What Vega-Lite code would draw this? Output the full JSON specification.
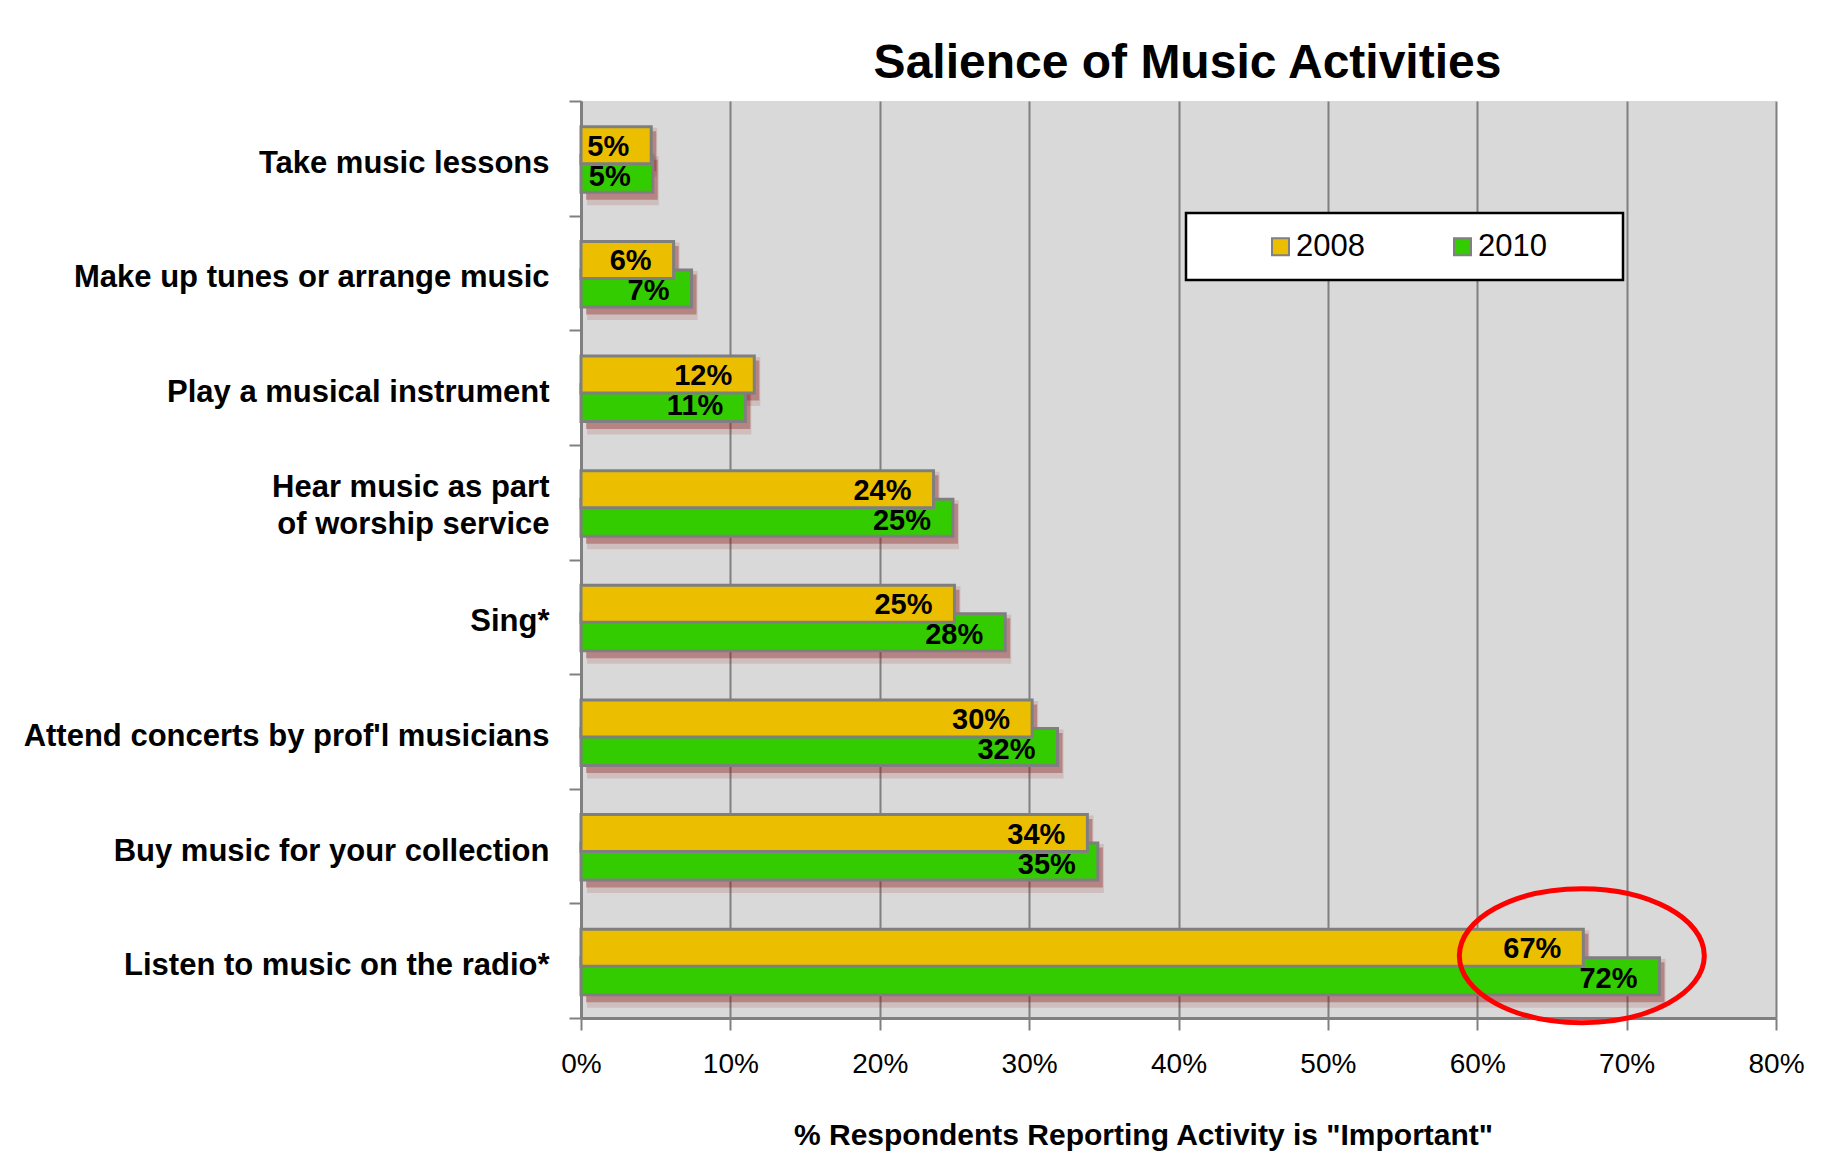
{
  "$schema": "https://vega.github.io/schema/vega-lite/v6.json",
  "width": 1195,
  "height": 917,
  "autosize": {"type": "none"},
  "padding": {"left": 581, "top": 101, "right": 57, "bottom": 135},
  "background": "white",
  "view": {"fill": "#D9D9D9", "stroke": null},
  "title": {"text": "Salience of Music Activities", "font": "Liberation Sans, sans-serif", "fontSize": 48, "fontWeight": "bold", "color": "black", "anchor": "middle", "dx": 9, "dy": 62, "offset": 21, "baseline": "alphabetic"},
  "data": {"values": [
    {"activity": "Take music lessons", "year": "2008", "value": 0.047},
    {"activity": "Take music lessons", "year": "2010", "value": 0.048},
    {"activity": "Make up tunes or arrange music", "year": "2008", "value": 0.062},
    {"activity": "Make up tunes or arrange music", "year": "2010", "value": 0.074},
    {"activity": "Play a musical instrument", "year": "2008", "value": 0.116},
    {"activity": "Play a musical instrument", "year": "2010", "value": 0.110},
    {"activity": "Hear music as part of worship service", "year": "2008", "value": 0.236},
    {"activity": "Hear music as part of worship service", "year": "2010", "value": 0.249},
    {"activity": "Sing*", "year": "2008", "value": 0.250},
    {"activity": "Sing*", "year": "2010", "value": 0.284},
    {"activity": "Attend concerts by prof'l musicians", "year": "2008", "value": 0.302},
    {"activity": "Attend concerts by prof'l musicians", "year": "2010", "value": 0.319},
    {"activity": "Buy music for your collection", "year": "2008", "value": 0.339},
    {"activity": "Buy music for your collection", "year": "2010", "value": 0.346},
    {"activity": "Listen to music on the radio*", "year": "2008", "value": 0.671},
    {"activity": "Listen to music on the radio*", "year": "2010", "value": 0.722}
  ]},
  "encoding": {
    "y": {
      "field": "activity", "type": "nominal",
      "sort": ["Take music lessons", "Make up tunes or arrange music", "Play a musical instrument", "Hear music as part of worship service", "Sing*", "Attend concerts by prof'l musicians", "Buy music for your collection", "Listen to music on the radio*"],
      "scale": {"paddingInner": 0, "paddingOuter": 0},
      "axis": {
        "title": null,
        "labelFont": "Liberation Sans, sans-serif",
        "labelFontSize": 31, "labelFontWeight": "bold", "labelColor": "black",
        "labelPadding": 20, "labelLimit": 600, "labelLineHeight": 37,
        "labelOffset": {"condition": {"test": "datum.value == 'Hear music as part of worship service'", "value": -15}, "value": 5},
        "labelExpr": "datum.label == 'Hear music as part of worship service' ? ['Hear music as part', 'of worship service'] : datum.label",
        "tickSize": 12, "tickColor": "#808080", "tickWidth": 2, "tickBand": "extent",
        "domainColor": "#808080", "domainWidth": 3, "grid": false
      }
    },
    "x": {
      "field": "value", "type": "quantitative",
      "scale": {"domain": [0, 0.8], "nice": false, "zero": true},
      "axis": {
        "values": [0, 0.1, 0.2, 0.3, 0.4, 0.5, 0.6, 0.7, 0.8],
        "format": ".0%",
        "title": "% Respondents Reporting Activity is \"Important\"",
        "titleFont": "Liberation Sans, sans-serif",
        "titleFontSize": 30, "titleFontWeight": "bold", "titleColor": "black",
        "titleX": 562, "titleAlign": "center", "titlePadding": 42,
        "labelFont": "Liberation Sans, sans-serif",
        "labelFontSize": 28, "labelColor": "black", "labelPadding": 20, "labelFlush": false,
        "tickSize": 12, "tickColor": "#808080", "tickWidth": 2,
        "domainColor": "#808080", "domainWidth": 3,
        "grid": true, "gridColor": "#808080", "gridWidth": 2, "gridOpacity": 1
      }
    }
  },
  "layer": [
    {"transform": [{"filter": "datum.year == '2008'"}], "mark": {"type": "bar", "height": 49, "yOffset": -6, "xOffset": 6, "color": "#8b1a1a", "opacity": 0.14}},
    {"transform": [{"filter": "datum.year == '2008'"}], "mark": {"type": "bar", "height": 40, "yOffset": -7, "xOffset": 5, "color": "#8b1a1a", "opacity": 0.35}},
    {"transform": [{"filter": "datum.year == '2010'"}], "mark": {"type": "bar", "height": 49, "yOffset": 22.5, "xOffset": 6, "color": "#8b1a1a", "opacity": 0.14}},
    {"transform": [{"filter": "datum.year == '2010'"}], "mark": {"type": "bar", "height": 40, "yOffset": 21.5, "xOffset": 5, "color": "#8b1a1a", "opacity": 0.35}},
    {
      "transform": [{"filter": "datum.year == '2010'"}],
      "mark": {"type": "bar", "height": 37, "yOffset": 15.5, "stroke": "#7f7f7f", "strokeWidth": 3, "opacity": 1},
      "encoding": {"color": {"field": "year", "type": "nominal", "scale": {"domain": ["2008", "2010"], "range": ["#EBBF00", "#33CC00"]},
        "legend": {"title": "\u00a0", "titleOrient": "right", "titlePadding": 58, "titleFontSize": 10, "orient": "none", "legendX": 605, "legendY": 112, "direction": "horizontal", "fillColor": "white", "strokeColor": "black", "padding": 18, "symbolOffset": 61, "symbolType": "square", "symbolSize": 289, "symbolStrokeColor": "#808080", "symbolStrokeWidth": 2, "symbolOpacity": 1, "labelFont": "Liberation Sans, sans-serif", "labelFontSize": 31, "labelColor": "black", "labelOffset": 0, "columnPadding": 21, "encode": {"legend": {"update": {"strokeWidth": {"value": 2.5}}}}}}}
    },
    {
      "transform": [{"filter": "datum.year == '2008'"}],
      "mark": {"type": "bar", "height": 37, "yOffset": -13, "stroke": "#7f7f7f", "strokeWidth": 3, "opacity": 1},
      "encoding": {"color": {"field": "year", "type": "nominal", "scale": {"domain": ["2008", "2010"], "range": ["#EBBF00", "#33CC00"]},
        "legend": {"title": "\u00a0", "titleOrient": "right", "titlePadding": 58, "titleFontSize": 10, "orient": "none", "legendX": 605, "legendY": 112, "direction": "horizontal", "fillColor": "white", "strokeColor": "black", "padding": 18, "symbolOffset": 61, "symbolType": "square", "symbolSize": 289, "symbolStrokeColor": "#808080", "symbolStrokeWidth": 2, "symbolOpacity": 1, "labelFont": "Liberation Sans, sans-serif", "labelFontSize": 31, "labelColor": "black", "labelOffset": 0, "columnPadding": 21, "encode": {"legend": {"update": {"strokeWidth": {"value": 2.5}}}}}}}
    },
    {
      "transform": [{"filter": "datum.year == '2008'"}],
      "mark": {"type": "text", "align": "right", "baseline": "middle", "dx": -22, "yOffset": -11.5, "font": "Liberation Sans, sans-serif", "fontSize": 29, "fontWeight": "bold", "color": "black"},
      "encoding": {"text": {"field": "value", "type": "quantitative", "format": ".0%"}}
    },
    {
      "transform": [{"filter": "datum.year == '2010'"}],
      "mark": {"type": "text", "align": "right", "baseline": "middle", "dx": -22, "yOffset": 18.5, "font": "Liberation Sans, sans-serif", "fontSize": 29, "fontWeight": "bold", "color": "black"},
      "encoding": {"text": {"field": "value", "type": "quantitative", "format": ".0%"}}
    },
    {
      "data": {"values": [{"activity": "Listen to music on the radio*", "value": 0.67}]},
      "mark": {"type": "point", "shape": "M-1,0A1,0.547,0,1,0,1,0A1,0.547,0,1,0,-1,0Z", "size": 60025, "filled": false, "stroke": "#FF0000", "strokeWidth": 5, "opacity": 1, "yOffset": -5}
    }
  ]
}
